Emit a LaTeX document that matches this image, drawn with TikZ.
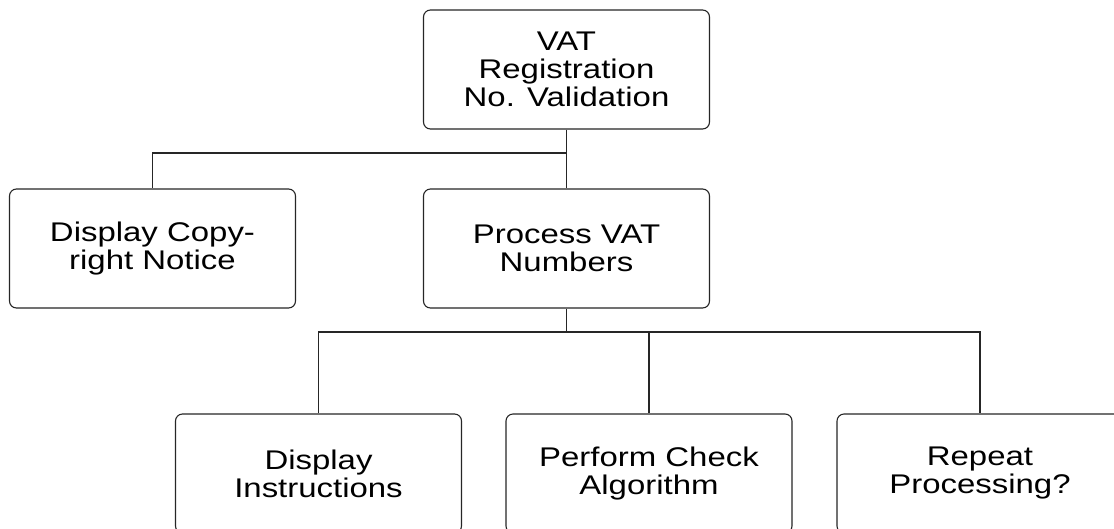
\documentclass[tikz,border=0pt]{standalone}
\usepackage{fontspec}
\newfontfamily\boxfont{Liberation Sans}[FakeStretch=1.22]
\begin{document}
\begin{tikzpicture}[x=1pt,y=-1pt,
  box/.style={draw=black!85, line width=1.1pt, rounded corners=7pt, fill=white,
    minimum width=286pt, minimum height=119pt, inner sep=0pt, align=center,
    font=\boxfont\fontsize{27}{28}\selectfont},
  link/.style={draw=black!85, line width=1.1pt}]
  \useasboundingbox (0,0) rectangle (1114,528);

  % boxes of the hierarchy
  \node[box] (top)  at (566.5,69.5)  {VAT\\Registration\\No. Validation};
  \node[box] (copy) at (152.5,248.5) {Display Copy-\\right Notice};
  \node[box] (proc) at (566.5,248.5) {Process VAT\\Numbers};
  \node[box] (inst) at (318.5,473.5) {Display\\Instructions};
  \node[box] (perf) at (649,473.5)   {Perform Check\\Algorithm};
  \node[box] (rep)  at (980,473.5)   {Repeat\\Processing?};

  % branch points
  \coordinate (b1) at (566.5,153);
  \coordinate (b2) at (566.5,332);

  % connectors
  \draw[link] (top.south) -- (b1) -- (proc.north);
  \draw[link] (b1) -| (copy.north);
  \draw[link] (proc.south) -- (b2);
  \draw[link] (b2) -| (inst.north);
  \draw[link] (b2) -| (perf.north);
  \draw[link] (b2) -| (rep.north);
\end{tikzpicture}
\end{document}
